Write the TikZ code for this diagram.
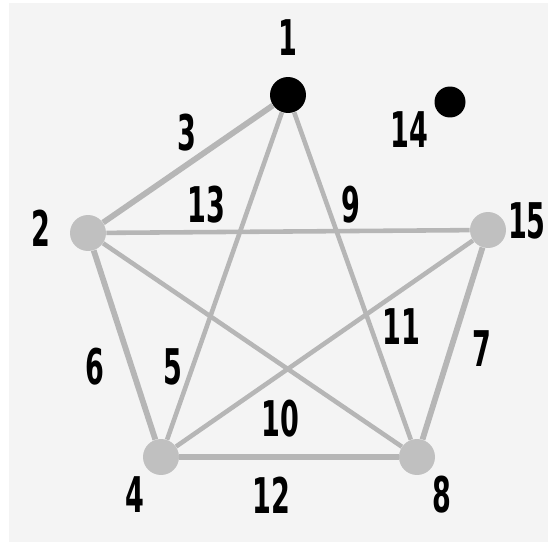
\documentclass[tikz,border=0pt]{standalone}
\usepackage{fontspec}
\setmainfont{DejaVu Sans}[FakeStretch=0.55]
\usetikzlibrary{positioning}
\definecolor{edgeGray}{RGB}{182,182,182}
\definecolor{vertexGray}{RGB}{192,192,192}
\definecolor{paperGray}{RGB}{244,244,244}
\tikzset{
    vertex/.style={
        circle,
        fill=vertexGray,
        minimum size=0.72cm,
        inner sep=0pt
    },
    blackvertex/.style={
        circle,
        fill=black,
        minimum size=0.72cm,
        inner sep=0pt
    },
    numlabel/.style={
        font=\fontsize{28}{28}\selectfont\bfseries,
        text=black,
        inner sep=0pt
    },
    outeredge/.style={draw=edgeGray, line width=3.3pt},
    inneredge/.style={draw=edgeGray, line width=2.6pt}
}

\begin{document}
\begin{tikzpicture}[x=0.02cm, y=-0.02cm]
        \useasboundingbox (0,0) rectangle (548,544);
        \fill[white] (0,0) rectangle (548,544);
        \fill[paperGray] (9,3) rectangle (548,542);
        % vertices
        \node[blackvertex] (v1) at (288,95) {};
        \node[blackvertex, minimum size=0.62cm] (v14) at (450,102) {};
        \node[vertex] (v2) at (88,233) {};
        \node[vertex] (v15) at (488,230) {};
        \node[vertex] (v4) at (161,457) {};
        \node[vertex] (v8) at (417,457) {};
        % edges
        \draw[outeredge] (v1) -- (v2);
        \draw[inneredge] (v2) -- (v15);
        \draw[inneredge] (v1) -- (v4);
        \draw[inneredge] (v1) -- (v8);
        \draw[outeredge] (v2) -- (v4);
        \draw[inneredge] (v2) -- (v8);
        \draw[inneredge] (v4) -- (v15);
        \draw[outeredge] (v15) -- (v8);
        \draw[outeredge] (v4) -- (v8);
        % vertex numbers
        \node[numlabel] (n1) at (288,38) {1};
        \node[numlabel] (n14) at (409,130) {14};
        \node[numlabel] (n2) at (41,228) {2};
        \node[numlabel, anchor=east] (n15) at (546,221) {15};
        \node[numlabel] (n4) at (135,495) {4};
        \node[numlabel] (n8) at (442,495) {8};
        % edge numbers
        \node[numlabel] (e3) at (187,133) {3};
        \node[numlabel] (e13) at (206,205) {13};
        \node[numlabel] (e9) at (351,205) {9};
        \node[numlabel] (e11) at (401,327) {11};
        \node[numlabel] (e7) at (482,349) {7};
        \node[numlabel] (e6) at (95,367) {6};
        \node[numlabel] (e5) at (173,367) {5};
        \node[numlabel] (e10) at (280,419) {10};
        \node[numlabel] (e12) at (271,495) {12};
    \end{tikzpicture}
\end{document}
